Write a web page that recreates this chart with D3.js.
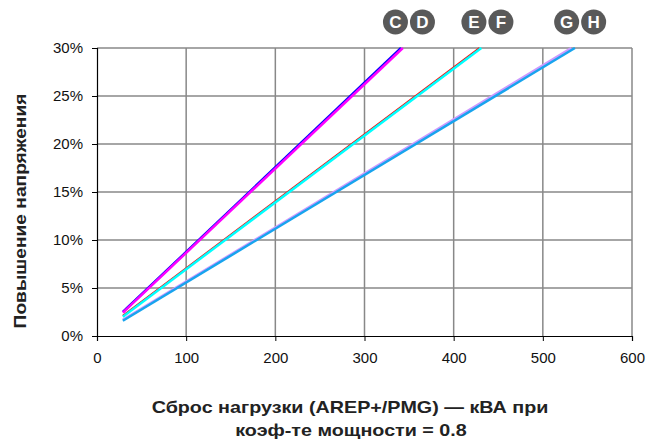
<!DOCTYPE html>
<html>
<head>
<meta charset="utf-8">
<script src="https://cdn.jsdelivr.net/npm/d3@7"></script>
<style>
  html, body { margin: 0; padding: 0; background: #fff; }
  svg { display: block; font-family: "Liberation Sans", Arial, sans-serif; }
</style>
</head>
<body>
<svg id="chart" width="649" height="440"></svg>
<script>
// ---- data ----
const seriesNames = ["C", "D", "E", "F", "G", "H"];
const seriesColors = ["#0000ff", "#ff00ff", "#ff0000", "#00ffff", "#cc99ff", "#18a4ee"];
const loadKVA = {
  C: [29, 341], D: [29, 343],
  E: [29, 429], F: [29, 431],
  G: [29, 532], H: [29, 536]
};
const voltRise = {
  C: [2.5, 30], D: [2.43, 30],
  E: [2.1, 30], F: [2.01, 30],
  G: [1.68, 30], H: [1.59, 30]
};
const xTicks = [0, 100, 200, 300, 400, 500, 600];
const yTicks = [0, 5, 10, 15, 20, 25, 30];
const yTitle = "Повышение напряжения";
const xTitle = ["Сброс нагрузки (AREP+/PMG) — кВА при", "коэф-те мощности = 0.8"];

// ---- layout ----
const svg = d3.select("#chart");
const L = 97, R = 632, T = 48, B = 336;
const x = d3.scaleLinear().domain([0, 600]).range([L, R]);
const y = d3.scaleLinear().domain([0, 30]).range([B, T]);

// grid
const grid = svg.append("g");
grid.selectAll("line.v").data(xTicks.filter(d => d > 0)).join("line")
  .attr("x1", d => x(d)).attr("x2", d => x(d)).attr("y1", T).attr("y2", B)
  .attr("stroke", "#888").attr("stroke-width", 1.5);
grid.selectAll("line.h").data(yTicks.filter(d => d > 0)).join("line")
  .attr("x1", L).attr("x2", R).attr("y1", d => y(d)).attr("y2", d => y(d))
  .attr("stroke", "#888").attr("stroke-width", 1.5);

// clip
svg.append("clipPath").attr("id", "plotclip").append("rect")
  .attr("x", L).attr("y", T - 1).attr("width", R - L).attr("height", B - T + 1);

// lines
const line = d3.line().x(d => x(d[0])).y(d => y(d[1]));
const lineData = seriesNames.map((n, i) => ({
  name: n, color: seriesColors[i],
  pts: loadKVA[n].map((v, j) => [v, voltRise[n][j]])
}));
svg.append("g").attr("clip-path", "url(#plotclip)")
  .selectAll("path").data(lineData).join("path")
  .attr("d", d => line(d.pts))
  .attr("fill", "none")
  .attr("stroke", d => d.color)
  .attr("stroke-width", d => d.name === "E" ? 2 : 2.5);

// axes
const FONT = "Liberation Sans, Arial, sans-serif";
const xAxis = d3.axisBottom(x).tickValues(xTicks).tickFormat(d3.format("d")).tickSizeOuter(0).tickSize(5).tickPadding(11);
const gx = svg.append("g").attr("transform", `translate(0,${B})`).call(xAxis);
gx.select(".domain").attr("stroke", "#000").attr("stroke-width", 1.2);
gx.selectAll(".tick line").attr("stroke", "#000");
gx.selectAll("text").attr("font-size", 15).attr("fill", "#111").attr("font-family", FONT);

const yAxis = d3.axisLeft(y).tickValues(yTicks).tickFormat(d => d + "%").tickSizeOuter(0).tickSize(5).tickPadding(9);
const gy = svg.append("g").attr("transform", `translate(${L},0)`).call(yAxis);
gy.select(".domain").attr("stroke", "#000").attr("stroke-width", 1.2);
gy.selectAll(".tick line").attr("stroke", "#000");
gy.selectAll("text").attr("font-size", 15).attr("fill", "#111").attr("font-family", FONT);

// titles
svg.append("text")
  .attr("transform", `translate(26,211) rotate(-90) scale(1.2,1)`)
  .attr("text-anchor", "middle")
  .attr("font-size", 16).attr("font-weight", "bold").attr("fill", "#222")
  .text(yTitle);
svg.append("text").attr("transform", "translate(350,413) scale(1.16,1)")
  .attr("text-anchor", "middle").attr("font-size", 17).attr("font-weight", "bold").attr("fill", "#222")
  .text(xTitle[0]);
svg.append("text").attr("transform", "translate(351,436) scale(1.16,1)")
  .attr("text-anchor", "middle").attr("font-size", 17).attr("font-weight", "bold").attr("fill", "#222")
  .text(xTitle[1]);

// badges: pairs above the top end of each line pair
const pairs = [["C", "D"], ["E", "F"], ["G", "H"]];
const badgeG = svg.append("g");
pairs.forEach(p => {
  const ends = p.map(n => x(loadKVA[n][1]));
  const cx = d3.mean(ends) + 7;
  p.forEach((n, k) => {
    const bx = cx + (k === 0 ? -13.5 : 13.5);
    badgeG.append("circle").attr("cx", bx).attr("cy", 22).attr("r", 12.5).attr("fill", "#595959");
    badgeG.append("text").attr("x", bx).attr("y", 22).attr("dy", "0.36em")
      .attr("text-anchor", "middle").attr("font-size", 17).attr("font-weight", "bold")
      .attr("fill", "#fff").text(n);
  });
});
</script>
</body>
</html>
